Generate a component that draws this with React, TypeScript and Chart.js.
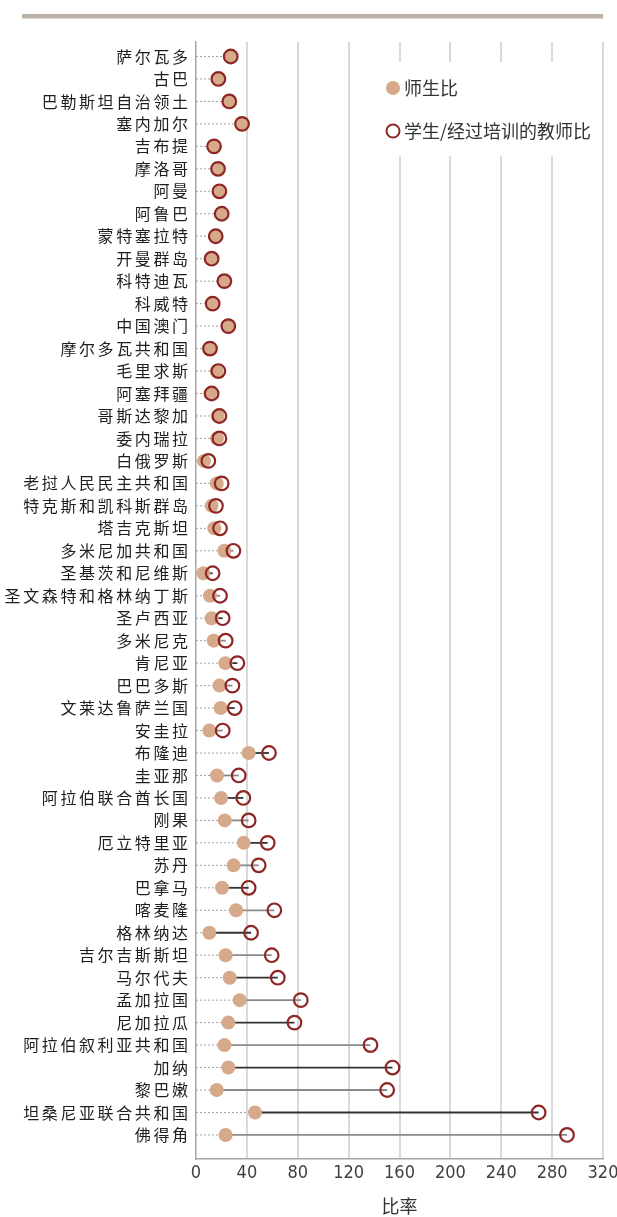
import React, { useEffect, useRef } from 'react';
import { Chart, registerables } from 'chart.js';

Chart.register(...registerables);

const countries = [
  '萨尔瓦多', '古巴', '巴勒斯坦自治领土', '塞内加尔', '吉布提', '摩洛哥', '阿曼', '阿鲁巴',
  '蒙特塞拉特', '开曼群岛', '科特迪瓦', '科威特', '中国澳门', '摩尔多瓦共和国', '毛里求斯',
  '阿塞拜疆', '哥斯达黎加', '委内瑞拉', '白俄罗斯', '老挝人民民主共和国', '特克斯和凯科斯群岛',
  '塔吉克斯坦', '多米尼加共和国', '圣基茨和尼维斯', '圣文森特和格林纳丁斯', '圣卢西亚',
  '多米尼克', '肯尼亚', '巴巴多斯', '文莱达鲁萨兰国', '安圭拉', '布隆迪', '圭亚那',
  '阿拉伯联合酋长国', '刚果', '厄立特里亚', '苏丹', '巴拿马', '喀麦隆', '格林纳达',
  '吉尔吉斯斯坦', '马尔代夫', '孟加拉国', '尼加拉瓜', '阿拉伯叙利亚共和国', '加纳', '黎巴嫩',
  '坦桑尼亚联合共和国', '佛得角',
];

// 师生比
const teacherRatio = [
  27.3, 17.6, 26.2, 36.2, 14.2, 17.3, 18.4, 20.2, 15.5, 12.3, 22.3, 13.1, 25.4, 11.0, 16.3,
  11.5, 17.0, 16.5, 6.3, 16.3, 12.3, 14.4, 22.3, 5.8, 11.0, 12.3, 13.9, 23.1, 18.4, 19.4,
  10.5, 41.4, 16.5, 19.7, 22.6, 37.5, 29.6, 20.5, 31.5, 10.5, 23.3, 26.5, 34.4, 25.4, 22.3,
  25.4, 16.3, 46.4, 23.3,
];

// 学生/经过培训的教师比
const trainedRatio = [
  27.3, 17.6, 26.2, 36.2, 14.2, 17.3, 18.4, 20.2, 15.5, 12.3, 22.3, 13.1, 25.4, 11.0, 17.6,
  12.3, 18.4, 18.4, 9.7, 20.2, 15.7, 18.9, 29.4, 13.1, 18.9, 21.0, 23.3, 32.5, 28.6, 30.4,
  21.0, 57.4, 33.6, 37.2, 41.4, 56.4, 49.3, 41.4, 61.6, 43.3, 59.5, 64.3, 82.4, 77.4, 137.2,
  154.5, 150.3, 269.4, 291.7,
];

const xTickValues = [0, 40, 80, 120, 160, 200, 240, 280, 320];
const seriesNames = ['师生比', '学生/经过培训的教师比'];
const axisTitle = '比率';

const TAN = '#d5a98a';
const RED = '#8e2626';
const CJK = '"Noto Sans CJK SC", "Noto Sans", sans-serif';
const NARROW = '"Liberation Sans Narrow", "DejaVu Sans Condensed", "Roboto", sans-serif';

export default function App() {
  const ref = useRef<HTMLCanvasElement>(null);

  useEffect(() => {
    document.body.style.margin = '0';
    document.body.style.overflow = 'hidden';
    const canvas = ref.current;
    if (!canvas) return;

    const dotted: any[] = [];
    const connectors: any[] = [];
    const dots: any[] = [];
    const rings: any[] = [];
    countries.forEach((_, i) => {
      dotted.push({ x: 0, y: i }, { x: teacherRatio[i], y: i }, { x: null, y: null });
      connectors.push({ x: teacherRatio[i], y: i }, { x: trainedRatio[i], y: i }, { x: null, y: null });
      dots.push({ x: teacherRatio[i], y: i });
      rings.push({ x: trainedRatio[i], y: i });
    });

    const decorPlugin = {
      id: 'decor',
      beforeDraw(chart: any) {
        const ctx = chart.ctx;
        ctx.save();
        ctx.fillStyle = '#bcb1a7';
        ctx.fillRect(22, 14, 581, 4.5);
        ctx.restore();
      },
      beforeDatasetsDraw(chart: any) {
        const ctx = chart.ctx;
        ctx.save();
        ctx.fillStyle = '#ffffff';
        ctx.fillRect(356, 62, 243, 94);
        ctx.beginPath();
        ctx.arc(393, 88, 7, 0, Math.PI * 2);
        ctx.fillStyle = TAN;
        ctx.fill();
        ctx.beginPath();
        ctx.arc(393, 131, 6.5, 0, Math.PI * 2);
        ctx.strokeStyle = RED;
        ctx.lineWidth = 2;
        ctx.stroke();
        ctx.fillStyle = '#333333';
        ctx.font = '18px ' + CJK;
        ctx.textBaseline = 'middle';
        ctx.textAlign = 'left';
        ctx.fillText(seriesNames[0], 404, 88);
        ctx.fillText(seriesNames[1], 404, 131);
        ctx.restore();
      },
      afterDatasetsDraw(chart: any) {
        (chart.ctx as any).letterSpacing = '2.6px';
      },
      afterDraw(chart: any) {
        (chart.ctx as any).letterSpacing = '0px';
      },
    };

    const chart = new Chart(canvas, {
      type: 'line',
      data: {
        datasets: [
          {
            label: seriesNames[1],
            data: rings,
            showLine: false,
            pointRadius: 6.8,
            pointHoverRadius: 6.8,
            pointBackgroundColor: 'rgba(0,0,0,0)',
            pointBorderColor: RED,
            pointBorderWidth: 2.2,
            borderColor: RED,
            order: 0,
          } as any,
          {
            label: seriesNames[0],
            data: dots,
            showLine: false,
            pointRadius: 7,
            pointHoverRadius: 7,
            pointBackgroundColor: TAN,
            pointBorderWidth: 0,
            borderColor: TAN,
            order: 1,
          } as any,
          {
            label: 'connectors',
            data: connectors,
            showLine: true,
            pointRadius: 0,
            borderWidth: 1.8,
            borderColor: '#8a8a8a',
            fill: false,
            spanGaps: false,
            segment: {
              borderColor: (ctx: any) =>
                Math.floor(ctx.p0DataIndex / 3) % 2 === 0 ? '#8a8a8a' : '#333333',
            },
            order: 2,
          } as any,
          {
            label: 'dotted',
            data: dotted,
            showLine: true,
            pointRadius: 0,
            borderWidth: 1,
            borderColor: '#a0a0a0',
            borderDash: [2, 2],
            fill: false,
            spanGaps: false,
            order: 3,
          } as any,
        ],
      },
      options: {
        responsive: false,
        animation: false,
        events: [],
        layout: { padding: { left: 0, top: 42, right: 14, bottom: 0 } },
        plugins: {
          legend: { display: false },
          tooltip: { enabled: false },
        },
        scales: {
          x: {
            type: 'linear',
            position: 'bottom',
            min: 0,
            max: 320,
            afterBuildTicks: (scale: any) => {
              scale.ticks = xTickValues.map((v) => ({ value: v }));
            },
            afterFit: (scale: any) => {
              scale.height = 58;
              scale.paddingLeft = 0;
              scale.paddingRight = 0;
            },
            grid: {
              color: (ctx: any) => (ctx.tick && ctx.tick.value === 0 ? 'rgba(0,0,0,0)' : '#d9d9d9'),
              lineWidth: 2,
              drawTicks: false,
            },
            border: { color: '#a5a5a5', width: 1.5 },
            ticks: {
              padding: 4,
              color: '#404040',
              font: { family: NARROW, size: 18 },
              maxRotation: 0,
              autoSkip: false,
            },
            title: {
              display: true,
              text: axisTitle,
              color: '#333333',
              font: { family: CJK, size: 18 },
              padding: { top: 0, bottom: 0 },
            },
          },
          y: {
            type: 'linear',
            reverse: true,
            min: -0.645,
            max: 49.07,
            afterBuildTicks: (scale: any) => {
              scale.ticks = countries.map((_, i) => ({ value: i }));
            },
            afterFit: (scale: any) => {
              scale.width = 196;
              scale.paddingTop = 0;
              scale.paddingBottom = 0;
            },
            grid: { display: false, drawTicks: false },
            border: { color: '#a5a5a5', width: 1.5 },
            ticks: {
              z: 1,
              padding: 5.4,
              autoSkip: false,
              color: '#1e1e1e',
              font: { family: CJK, size: 16 },
              callback: (v: any) => countries[v] ?? '',
            },
          },
        },
      } as any,
      plugins: [decorPlugin],
    });

    return () => chart.destroy();
  }, []);

  return (
    <div style={{ width: 617, height: 1217 }}>
      <canvas ref={ref} width={617} height={1217} style={{ display: 'block', width: 617, height: 1217 }} />
    </div>
  );
}
